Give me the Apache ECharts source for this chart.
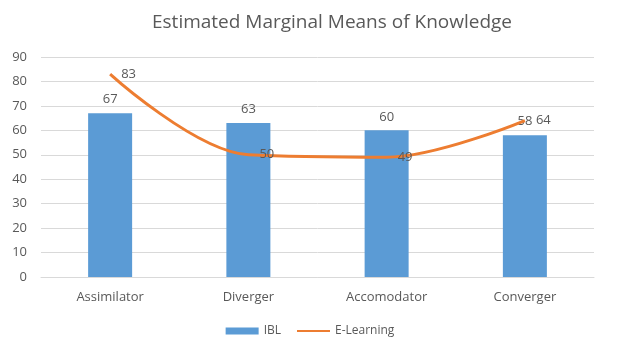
<!DOCTYPE html>
<html>
<head>
<meta charset="utf-8">
<script src="https://cdn.jsdelivr.net/npm/echarts@6/dist/echarts.min.js"></script>
<style>
  html, body { margin: 0; padding: 0; background: #fff; }
  #chart { width: 620px; height: 350px; }
</style>
</head>
<body>
<div id="chart"></div>
<script>
const categories = ['Assimilator', 'Diverger', 'Accomodator', 'Converger'];
const iblValues = [67, 63, 60, 58];
const eLearningValues = [83, 50, 49, 64];
const yTicks = { min: 0, max: 90, interval: 10 };

const chart = echarts.init(document.getElementById('chart'));
const textColor = '#595959';
const option = {
  animation: false,
  title: {
    text: 'Estimated Marginal Means of Knowledge',
    left: 147,
    top: 8,
    textStyle: { color: textColor, fontSize: 19, fontWeight: 'normal', fontFamily: 'Open Sans' }
  },
  legend: {
    bottom: 8,
    left: 'center',
    itemGap: 16,
    textStyle: { color: textColor, fontSize: 12, fontFamily: 'Open Sans' },
    data: [
      { name: 'IBL', icon: 'rect', itemStyle: { color: '#5b9bd5' } },
      { name: 'E-Learning', icon: 'path://M0,4 L30,4 L30,6 L0,6 Z' }
    ],
    itemWidth: 33,
    itemHeight: 7
  },
  grid: { left: 41, right: 26, top: 57, bottom: 73 },
  xAxis: {
    type: 'category',
    data: categories,
    axisTick: { show: false },
    axisLine: { lineStyle: { color: '#d9d9d9' } },
    axisLabel: { color: textColor, fontSize: 13, margin: 14, fontFamily: 'Open Sans' }
  },
  yAxis: {
    type: 'value',
    min: yTicks.min,
    max: yTicks.max,
    interval: yTicks.interval,
    axisLabel: { color: textColor, fontSize: 13, margin: 14, fontFamily: 'Open Sans' },
    splitLine: { lineStyle: { color: '#d9d9d9' } }
  },
  series: [
    {
      name: 'IBL',
      type: 'bar',
      data: iblValues,
      barWidth: 44,
      itemStyle: { color: '#5b9bd5' },
      label: { show: true, position: 'top', color: textColor, fontSize: 13, distance: 7, fontFamily: 'Open Sans' }
    },
    {
      name: 'E-Learning',
      type: 'line',
      data: eLearningValues,
      smooth: 0.35,
      symbol: 'circle',
      symbolSize: 0,
      showSymbol: true,
      lineStyle: { color: '#ed7d31', width: 3 },
      itemStyle: { color: '#ed7d31' },
      label: { show: true, position: 'right', color: textColor, fontSize: 13, distance: 11, fontFamily: 'Open Sans' }
    }
  ]
};
chart.setOption(option);
</script>
</body>
</html>
